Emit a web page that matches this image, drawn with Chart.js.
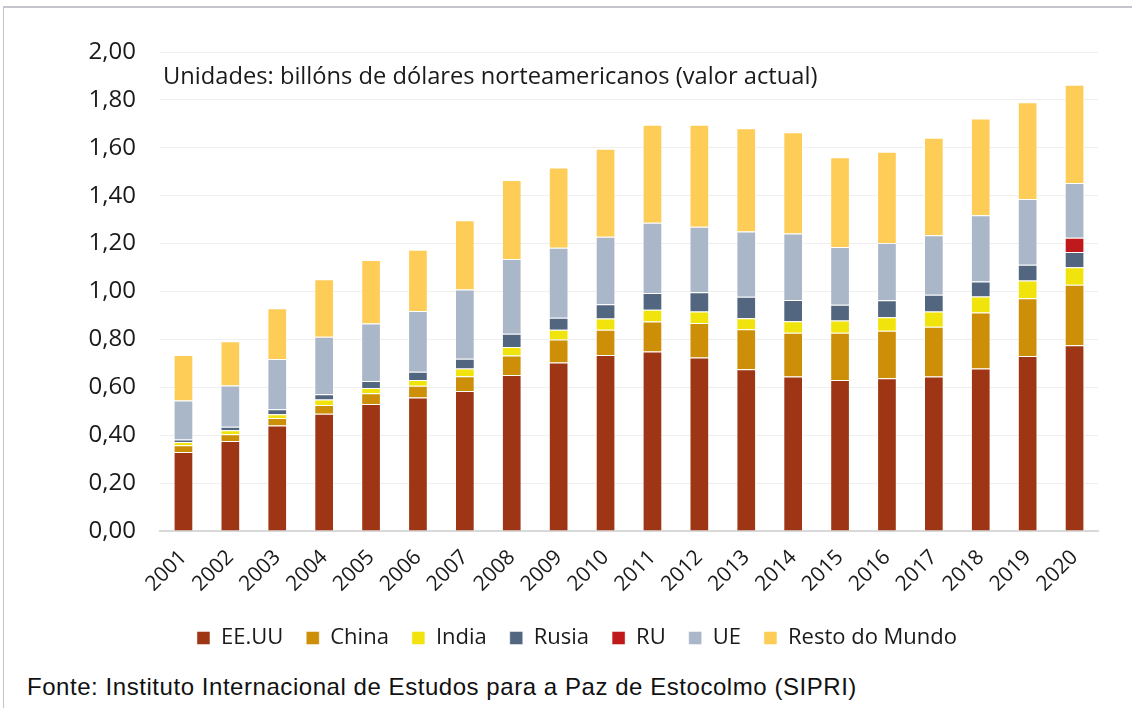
<!DOCTYPE html>
<html>
<head>
<meta charset="utf-8">
<script src="https://cdn.jsdelivr.net/npm/chart.js@4/dist/chart.umd.min.js"></script>
<style>
  body { margin: 0; background: #fff; }
  #wrap { position: relative; width: 1132px; height: 708px; overflow: hidden; }
  #frame { position: absolute; left: 3px; top: 6px; right: -2px; bottom: -2px;
           border-top: 2px solid #c4c4cc; border-left: 1px solid #c4c4cc; }
  #box { position: absolute; left: 0; top: 0; width: 1132px; height: 663px; }
  #fonte { position: absolute; left: 27px; top: 673px; font-family: "Liberation Sans", Arial, sans-serif;
           font-size: 24px; letter-spacing: 0.55px; color: #111; white-space: nowrap; }
</style>
</head>
<body>
<div id="wrap">
  <div id="frame"></div>
  <div id="box"><canvas id="gastoChart"></canvas></div>
  <div id="fonte">Fonte: Instituto Internacional de Estudos para a Paz de Estocolmo (SIPRI)</div>
</div>
<script>
// ================= DATA =================

const years = ["2001", "2002", "2003", "2004", "2005", "2006", "2007", "2008", "2009", "2010",
               "2011", "2012", "2013", "2014", "2015", "2016", "2017", "2018", "2019", "2020"];

const eeuu  = [0.330, 0.376, 0.440, 0.490, 0.530, 0.557, 0.585, 0.651, 0.704, 0.735,
               0.750, 0.724, 0.675, 0.645, 0.631, 0.638, 0.645, 0.679, 0.731, 0.776];
const china = [0.028, 0.028, 0.032, 0.036, 0.045, 0.049, 0.061, 0.082, 0.096, 0.105,
               0.125, 0.144, 0.167, 0.183, 0.197, 0.198, 0.208, 0.233, 0.241, 0.252];
const india = [0.014, 0.017, 0.015, 0.023, 0.022, 0.025, 0.032, 0.035, 0.040, 0.047,
               0.049, 0.049, 0.046, 0.048, 0.051, 0.057, 0.064, 0.067, 0.074, 0.073];
const rusia = [0.010, 0.014, 0.021, 0.022, 0.029, 0.034, 0.041, 0.056, 0.050, 0.060,
               0.070, 0.080, 0.090, 0.088, 0.066, 0.070, 0.069, 0.063, 0.066, 0.064];
const ru    = [null, null, null, null, null, null, null, null, null, null,
               null, null, null, null, null, null, null, null, null, 0.059];
const ue    = [0.163, 0.173, 0.210, 0.240, 0.240, 0.254, 0.289, 0.312, 0.293, 0.282,
               0.293, 0.273, 0.273, 0.278, 0.241, 0.239, 0.249, 0.276, 0.274, 0.229];
const resto = [0.190, 0.184, 0.212, 0.240, 0.266, 0.255, 0.289, 0.330, 0.335, 0.367,
               0.409, 0.426, 0.431, 0.423, 0.375, 0.381, 0.407, 0.404, 0.404, 0.410];

const yTicks = [0, 0.2, 0.4, 0.6, 0.8, 1.0, 1.2, 1.4, 1.6, 1.8, 2.0];

const unidades = "Unidades: billóns de dólares norteamericanos (valor actual)";

// ================= HELPERS =================

function serie(label, data, color) {
    return {
        label: label,
        data: data,
        backgroundColor: color,
        borderColor: "rgba(255,255,255,0.45)",
        borderWidth: 1,
        barPercentage: 0.42,
        categoryPercentage: 1
    };
}

// title drawn inside the plot area
const unidadesPlugin = {
    id: "unidades",
    afterDraw(chart) {
        const ctx = chart.ctx;
        const area = chart.chartArea;
        ctx.save();
        ctx.font = "23.7px 'Open Sans'";
        ctx.fillStyle = "#1a1a1a";
        ctx.textBaseline = "middle";
        ctx.fillText(unidades, area.left + 3, area.top + 25);
        ctx.restore();
    }
};

// ================= CHART =================

new Chart(document.getElementById("gastoChart"), {

    type: "bar",

    data: {
        labels: years,
        datasets: [
            serie("EE.UU", eeuu, "#9e3615"),
            serie("China", china, "#cd8f07"),
            serie("India", india, "#f1e40c"),
            serie("Rusia", rusia, "#536680"),
            serie("RU", ru, "#c0191c"),
            serie("UE", ue, "#a9b7c9"),
            serie("Resto do Mundo", resto, "#fecd57")
        ]
    },

    options: {
        responsive: true,
        maintainAspectRatio: false,
        animation: false,
        layout: {
            // left padding shifts the legend centre to the right, as in the original
            padding: { top: 52, right: 34, left: 56, bottom: 4 }
        },
        plugins: {
            legend: {
                position: "bottom",
                labels: {
                    font: { family: "'Open Sans'", size: 22 },
                    color: "#1a1a1a",
                    boxWidth: 13,
                    boxHeight: 13,
                    padding: 23
                }
            },
            tooltip: { enabled: false }
        },
        scales: {
            x: {
                stacked: true,
                grid: { display: false },
                border: { color: "#d9d9d9", width: 2 },
                ticks: {
                    font: { family: "'Open Sans'", size: 21 },
                    color: "#1a1a1a",
                    minRotation: 45,
                    maxRotation: 45,
                    padding: 6
                },
                afterFit: s => { s.height = 73; }
            },
            y: {
                stacked: true,
                min: 0,
                max: 2,
                afterBuildTicks: s => { s.ticks = yTicks.map(v => ({ value: v })); },
                grid: { color: "#efefef", drawTicks: false },
                border: { display: false },
                ticks: {
                    font: { family: "'Open Sans'", size: 24 },
                    color: "#1a1a1a",
                    padding: 24,
                    callback: v => v.toFixed(2).replace(".", ",")
                },
                afterFit: s => { s.width = 104; }
            }
        }
    },

    plugins: [unidadesPlugin]

});
</script>
</body>
</html>
